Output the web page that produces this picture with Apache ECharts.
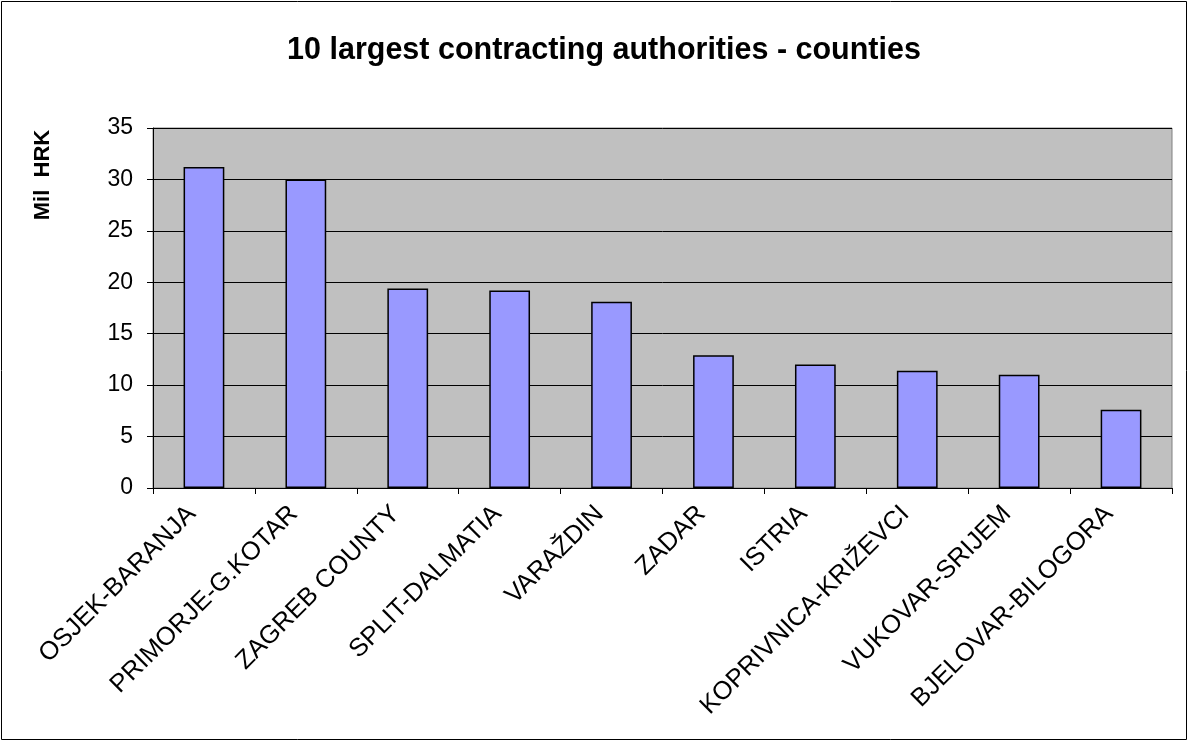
<!DOCTYPE html>
<html><head><meta charset="utf-8">
<script src="https://cdn.jsdelivr.net/npm/echarts@6/dist/echarts.min.js"></script>
<style>html,body{margin:0;padding:0;background:#fff}#c{width:1189px;height:742px}</style>
</head><body><div id="c"></div>
<script>
const categories = ['OSJEK-BARANJA','PRIMORJE-G.KOTAR','ZAGREB COUNTY','SPLIT-DALMATIA','VARAŽDIN','ZADAR','ISTRIA','KOPRIVNICA-KRIŽEVCI','VUKOVAR-SRIJEM','BJELOVAR-BILOGORA'];
const values = [31.2, 30.0, 19.4, 19.2, 18.1, 12.9, 12.0, 11.4, 11.0, 7.6];
const yTicks = [0, 5, 10, 15, 20, 25, 30, 35];
const yAxisTitle = 'Mil  HRK';
const chartTitle = '10 largest contracting authorities - counties';

const chart = echarts.init(document.getElementById('c'));
const F = '"Liberation Sans", Arial, sans-serif';
chart.setOption({
  animation: false,
  title: {
    text: chartTitle,
    left: 599, top: 30, textAlign: 'center',
    textStyle: {fontFamily: F, fontSize: 30.5, fontWeight: 'bold', color: '#000'}
  },
  graphic: [
    {type: 'rect', shape: {x: 1.5, y: 1.5, width: 1185, height: 738}, style: {fill: 'none', stroke: '#000', lineWidth: 1}, silent: true, z: 100},
    {type: 'text', x: 43, y: 175, rotation: Math.PI / 2,
     style: {text: yAxisTitle, fontFamily: F, fontSize: 22, fontWeight: 'bold', fill: '#000', align: 'center', verticalAlign: 'middle'}}
  ],
  grid: {left: 153, right: 17, top: 128, bottom: 254, show: true, backgroundColor: '#C0C0C0', borderColor: '#808080', borderWidth: 1},
  xAxis: {
    type: 'category', data: categories,
    axisLine: {lineStyle: {color: '#000', width: 1}},
    axisTick: {show: true, alignWithLabel: false, length: 6, lineStyle: {color: '#000'}},
    axisLabel: {rotate: 45, interval: 0, margin: 10, padding: [0, 17, 11, 0], fontFamily: F, fontSize: 25.5, color: '#000'}
  },
  yAxis: {
    type: 'value', min: yTicks[0], max: yTicks[yTicks.length - 1], interval: 5,
    axisLine: {show: true, lineStyle: {color: '#000'}},
    axisTick: {show: true, length: 6, lineStyle: {color: '#000'}},
    axisLabel: {fontFamily: F, fontSize: 23, color: '#000', margin: 20},
    splitLine: {lineStyle: {color: '#000', width: 1}}
  },
  series: [{
    type: 'bar', data: values, barWidth: '40%',
    itemStyle: {color: '#9999FF', borderColor: '#000', borderWidth: 1.5}
  }]
});
</script></body></html>
